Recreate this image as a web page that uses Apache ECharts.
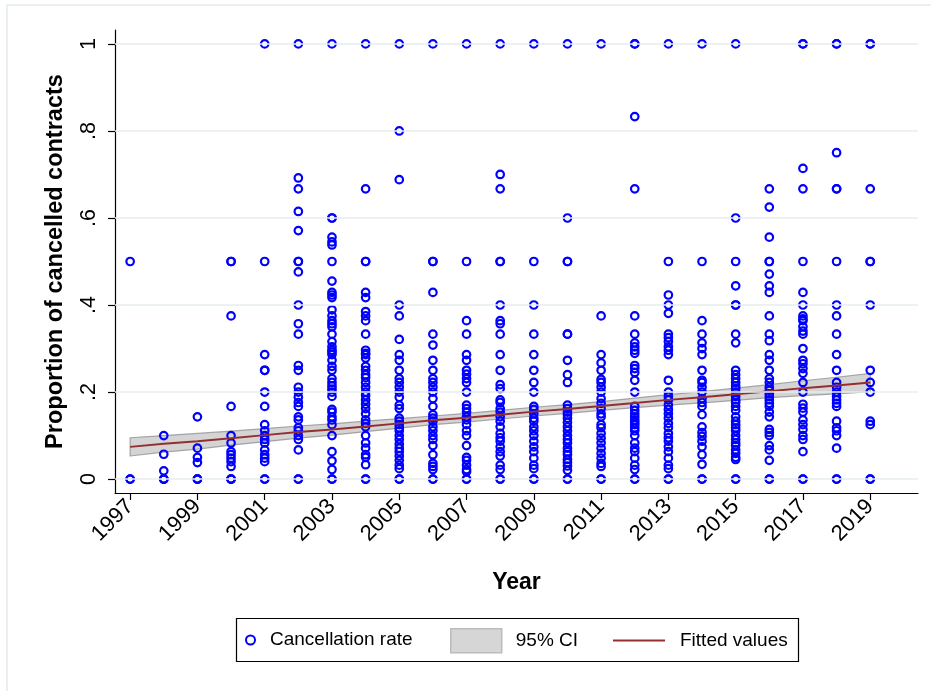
<!DOCTYPE html>
<html>
<head>
<meta charset="utf-8">
<title>Proportion of cancelled contracts by year</title>
<script src="https://cdn.jsdelivr.net/npm/echarts@6/dist/echarts.min.js"></script>
<style>
  html, body { margin: 0; padding: 0; background: #ffffff; }
  #chart { width: 931px; height: 691px; }
</style>
</head>
<body>
<div id="chart"></div>
<script>
// Cancellation rate per contract group, grouped by year
const rate1997 = [0, 0, 0.5];
const rate1998 = [0, 0, 0, 0.019, 0.057, 0.1];
const rate1999 = [0, 0, 0, 0.038, 0.05, 0.071, 0.143];
const rate2000 = [0, 0, 0, 0.029, 0.04, 0.048, 0.056, 0.063, 0.083, 0.1, 0.167, 0.375, 0.5, 0.5];
const rate2001 = [0, 0, 0.04, 0.048, 0.056, 0.067, 0.083, 0.091, 0.1, 0.111, 0.125, 0.167, 0.2, 0.25, 0.25, 0.286, 0.5, 1];
const rate2002 = [0, 0, 0.067, 0.091, 0.1, 0.111, 0.118, 0.136, 0.143, 0.167, 0.176, 0.188, 0.2, 0.211, 0.25, 0.261,
  0.333, 0.357, 0.4, 0.476, 0.5, 0.5, 0.571, 0.615, 0.667, 0.692, 1];
const rate2003 = [0, 0, 0.022, 0.042, 0.063, 0.1, 0.125, 0.136, 0.143, 0.154, 0.16, 0.19, 0.2, 0.207, 0.214, 0.222,
  0.231, 0.25, 0.259, 0.273, 0.286, 0.292, 0.296, 0.304, 0.316, 0.333, 0.35, 0.357, 0.364, 0.375, 0.389, 0.417,
  0.423, 0.429, 0.455, 0.5, 0.538, 0.545, 0.556, 0.6, 0.6, 1];
const rate2004 = [0, 0, 0.033, 0.05, 0.056, 0.071, 0.083, 0.1, 0.12, 0.128, 0.136, 0.15, 0.162, 0.172, 0.182, 0.192,
  0.2, 0.211, 0.222, 0.233, 0.24, 0.25, 0.259, 0.278, 0.286, 0.289, 0.296, 0.333, 0.364, 0.375, 0.385, 0.417,
  0.429, 0.5, 0.5, 0.667, 1];
const rate2005 = [0, 0, 0.024, 0.032, 0.043, 0.053, 0.063, 0.071, 0.08, 0.091, 0.1, 0.111, 0.118, 0.125, 0.133, 0.14,
  0.162, 0.17, 0.188, 0.2, 0.211, 0.222, 0.231, 0.25, 0.273, 0.286, 0.321, 0.375, 0.4, 0.688, 0.8, 1];
const rate2006 = [0, 0, 0.022, 0.029, 0.036, 0.056, 0.077, 0.091, 0.1, 0.111, 0.12, 0.133, 0.14, 0.148, 0.167, 0.185,
  0.2, 0.211, 0.222, 0.231, 0.25, 0.273, 0.308, 0.333, 0.429, 0.5, 0.5, 1];
const rate2007 = [0, 0, 0.017, 0.022, 0.032, 0.043, 0.05, 0.077, 0.1, 0.111, 0.125, 0.136, 0.143, 0.154, 0.162, 0.17,
  0.2, 0.222, 0.231, 0.241, 0.25, 0.273, 0.286, 0.333, 0.364, 0.5, 1];
const rate2008 = [0, 0, 0.022, 0.032, 0.053, 0.063, 0.074, 0.087, 0.095, 0.105, 0.12, 0.133, 0.143, 0.154, 0.162,
  0.176, 0.182, 0.208, 0.217, 0.25, 0.286, 0.333, 0.357, 0.364, 0.4, 0.5, 0.5, 0.667, 0.7, 1];
const rate2009 = [0, 0, 0.024, 0.032, 0.048, 0.063, 0.074, 0.087, 0.1, 0.111, 0.12, 0.133, 0.14, 0.15, 0.16, 0.167,
  0.2, 0.222, 0.25, 0.286, 0.333, 0.4, 0.5, 1];
const rate2010 = [0, 0, 0.02, 0.03, 0.038, 0.045, 0.056, 0.063, 0.071, 0.083, 0.091, 0.1, 0.111, 0.12, 0.13, 0.14,
  0.148, 0.154, 0.162, 0.17, 0.222, 0.24, 0.273, 0.333, 0.333, 0.5, 0.5, 0.6, 1];
const rate2011 = [0, 0, 0.029, 0.036, 0.048, 0.059, 0.071, 0.083, 0.094, 0.105, 0.118, 0.125, 0.143, 0.15, 0.162,
  0.174, 0.185, 0.2, 0.211, 0.222, 0.229, 0.25, 0.267, 0.286, 0.375, 1];
const rate2012 = [0, 0, 0.022, 0.032, 0.048, 0.063, 0.071, 0.083, 0.1, 0.111, 0.118, 0.125, 0.13, 0.136, 0.143, 0.15,
  0.158, 0.167, 0.2, 0.227, 0.245, 0.254, 0.261, 0.289, 0.296, 0.304, 0.313, 0.333, 0.375, 0.667, 0.833, 1, 1];
const rate2013 = [0, 0, 0.024, 0.032, 0.048, 0.063, 0.074, 0.087, 0.095, 0.105, 0.118, 0.128, 0.14, 0.15, 0.16, 0.17,
  0.182, 0.19, 0.2, 0.227, 0.286, 0.296, 0.304, 0.316, 0.325, 0.333, 0.381, 0.4, 0.423, 0.5, 1];
const rate2014 = [0, 0, 0.034, 0.056, 0.074, 0.087, 0.098, 0.107, 0.12, 0.148, 0.167, 0.176, 0.185, 0.2, 0.211, 0.222,
  0.227, 0.25, 0.286, 0.3, 0.313, 0.333, 0.364, 0.5, 1];
const rate2015 = [0, 0, 0.045, 0.05, 0.059, 0.067, 0.077, 0.083, 0.091, 0.1, 0.111, 0.118, 0.125, 0.133, 0.143, 0.158,
  0.167, 0.176, 0.182, 0.19, 0.2, 0.208, 0.214, 0.222, 0.231, 0.24, 0.25, 0.313, 0.333, 0.4, 0.4, 0.444, 0.5, 0.6, 1];
const rate2016 = [0, 0, 0.043, 0.067, 0.077, 0.1, 0.107, 0.114, 0.143, 0.154, 0.167, 0.174, 0.182, 0.19, 0.196, 0.204,
  0.211, 0.222, 0.231, 0.25, 0.273, 0.286, 0.318, 0.333, 0.375, 0.429, 0.444, 0.471, 0.5, 0.5, 0.556, 0.625, 0.667];
const rate2017 = [0, 0, 0.063, 0.091, 0.1, 0.114, 0.125, 0.136, 0.154, 0.163, 0.172, 0.2, 0.222, 0.243, 0.254, 0.265,
  0.273, 0.3, 0.333, 0.34, 0.35, 0.364, 0.368, 0.375, 0.4, 0.429, 0.5, 0.667, 0.714, 1, 1];
const rate2018 = [0, 0, 0.071, 0.1, 0.111, 0.118, 0.133, 0.167, 0.174, 0.182, 0.19, 0.2, 0.211, 0.222, 0.25, 0.286,
  0.333, 0.375, 0.4, 0.5, 0.667, 0.667, 0.75, 1, 1];
const rate2019 = [0, 0, 0.125, 0.133, 0.2, 0.222, 0.25, 0.4, 0.5, 0.5, 0.667, 1, 1];

const years = [1997, 1998, 1999, 2000, 2001, 2002, 2003, 2004, 2005, 2006, 2007, 2008,
  2009, 2010, 2011, 2012, 2013, 2014, 2015, 2016, 2017, 2018, 2019];
const ratesByYear = [rate1997, rate1998, rate1999, rate2000, rate2001, rate2002, rate2003, rate2004,
  rate2005, rate2006, rate2007, rate2008, rate2009, rate2010, rate2011, rate2012, rate2013, rate2014,
  rate2015, rate2016, rate2017, rate2018, rate2019];

// Linear fit and its 95% confidence band, one value per year
const fitted  = [0.074, 0.081, 0.087, 0.094, 0.101, 0.108, 0.114, 0.121, 0.128, 0.135, 0.141, 0.148,
  0.155, 0.161, 0.168, 0.175, 0.182, 0.188, 0.195, 0.202, 0.209, 0.215, 0.222];
const ciLower = [0.053, 0.062, 0.069, 0.078, 0.086, 0.094, 0.101, 0.109, 0.117, 0.125, 0.131, 0.138,
  0.145, 0.151, 0.158, 0.164, 0.170, 0.175, 0.181, 0.187, 0.192, 0.196, 0.201];
const ciUpper = [0.095, 0.100, 0.105, 0.110, 0.116, 0.122, 0.127, 0.133, 0.139, 0.145, 0.151, 0.158,
  0.165, 0.171, 0.178, 0.186, 0.194, 0.201, 0.209, 0.217, 0.226, 0.234, 0.243];

// Axis ticks
const xTicks = [1997, 1999, 2001, 2003, 2005, 2007, 2009, 2011, 2013, 2015, 2017, 2019];
const yTicks = [0, 0.2, 0.4, 0.6, 0.8, 1];

const FONT = '"Liberation Sans", Arial, Helvetica, sans-serif';
const MARKER = '#0000ff';
const FIT = '#952f2f';
const BAND_FILL = 'rgba(160,160,160,0.45)';
const BAND_EDGE = 'rgba(140,140,140,0.75)';

const scatterData = [];
ratesByYear.forEach(function (list, i) {
  list.forEach(function (v) { scatterData.push([years[i], v]); });
});
const bandData = years.map(function (y, i) { return [y, ciLower[i], ciUpper[i]]; });
const fitData = years.map(function (y, i) { return [y, fitted[i]]; });

// The whole confidence band is drawn as one polygon, mapped through the axes
function renderBand(params, api) {
  if (params.dataIndex !== 0) return null;
  const pts = [];
  for (let i = 0; i < bandData.length; i++) pts.push(api.coord([bandData[i][0], bandData[i][1]]));
  for (let i = bandData.length - 1; i >= 0; i--) pts.push(api.coord([bandData[i][0], bandData[i][2]]));
  return {
    type: 'polygon',
    shape: { points: pts },
    style: { fill: BAND_FILL, stroke: BAND_EDGE, lineWidth: 1.2 }
  };
}

const chart = echarts.init(document.getElementById('chart'), null, { renderer: 'canvas' });

chart.setOption({
  animation: false,
  backgroundColor: '#ffffff',
  textStyle: { fontFamily: FONT },
  graphic: [{
    type: 'rect',
    silent: true,
    z: -10,
    shape: { x: 7, y: 5, width: 1000, height: 1000 },
    style: { fill: 'none', stroke: '#e3ebee', lineWidth: 1.5 }
  }, {
    type: 'rect',
    silent: true,
    shape: { x: 236.5, y: 618.5, width: 562, height: 43 },
    style: { fill: 'none', stroke: '#000000', lineWidth: 1.2 }
  }],
  grid: { left: 115, right: 13, top: 30, bottom: 198, containLabel: false },
  xAxis: {
    type: 'value',
    min: 1996.55,
    max: 2020.42,
    name: 'Year',
    nameLocation: 'middle',
    nameGap: 78,
    nameTextStyle: { fontFamily: FONT, fontWeight: 'bold', fontSize: 23, color: '#000' },
    axisLine: { show: true, onZero: false, lineStyle: { color: '#000', width: 1.2 } },
    axisTick: { show: true, length: 7, customValues: xTicks, lineStyle: { color: '#000', width: 1.2 } },
    axisLabel: {
      customValues: xTicks,
      rotate: 45,
      margin: 10,
      fontSize: 22,
      color: '#000',
      fontFamily: FONT,
      formatter: function (v) { return String(Math.round(v)); }
    },
    splitLine: { show: false }
  },
  yAxis: {
    type: 'value',
    min: -0.032,
    max: 1.032,
    name: 'Proportion of cancelled contracts',
    nameLocation: 'middle',
    nameGap: 47,
    nameTextStyle: { fontFamily: FONT, fontWeight: 'bold', fontSize: 23.5, color: '#000' },
    axisLine: { show: true, onZero: false, lineStyle: { color: '#000', width: 1.2 } },
    axisTick: { show: true, length: 7, customValues: yTicks, lineStyle: { color: '#000', width: 1.2 } },
    axisLabel: {
      customValues: yTicks,
      rotate: 90,
      margin: 15,
      fontSize: 21.5,
      color: '#000',
      fontFamily: FONT,
      formatter: function (v) {
        const r = Math.round(v * 10) / 10;
        if (r === 0) return '0';
        if (r === 1) return '1';
        return String(r).replace(/^0/, '');
      }
    },
    splitLine: { show: false }
  },
  legend: [{
    data: ['Cancellation rate'],
    left: 245, top: 630.5,
    padding: 0,
    itemWidth: 9, itemHeight: 9,
    textStyle: { fontSize: 19, color: '#000', fontFamily: FONT, padding: [0, 0, 0, 10] },
    selectedMode: false
  }, {
    data: [{ name: '95% CI', icon: 'rect', itemStyle: { color: '#d6d6d6', borderColor: '#bcbcbc', borderWidth: 1.5 } }],
    left: 450, top: 628,
    padding: 0,
    itemWidth: 51, itemHeight: 24,
    textStyle: { fontSize: 19, color: '#000', fontFamily: FONT, padding: [0, 0, 0, 9] },
    selectedMode: false
  }, {
    data: [{ name: 'Fitted values', icon: 'rect', itemStyle: { color: FIT, borderWidth: 0 } }],
    left: 613, top: 631,
    padding: 0,
    itemWidth: 52, itemHeight: 2.2,
    textStyle: { fontSize: 19, color: '#000', fontFamily: FONT, padding: [0, 0, 0, 10] },
    selectedMode: false
  }],
  series: [{
    // horizontal grid lines at the y ticks
    type: 'line',
    name: 'grid',
    data: [],
    silent: true,
    markLine: {
      silent: true,
      symbol: 'none',
      label: { show: false },
      lineStyle: { color: '#e6eef0', width: 1.5, type: 'solid' },
      data: yTicks.map(function (v) { return { yAxis: v }; })
    }
  }, {
    type: 'scatter',
    name: 'Cancellation rate',
    data: scatterData,
    symbol: 'circle',
    symbolSize: 7.5,
    itemStyle: { color: 'rgba(0,0,0,0)', borderColor: MARKER, borderWidth: 2.2, opacity: 1 },
    emphasis: { disabled: true }
  }, {
    type: 'custom',
    name: '95% CI',
    data: bandData,
    encode: { x: 0, y: [1, 2] },
    renderItem: renderBand,
    itemStyle: { color: '#d6d6d6' },
    silent: true
  }, {
    type: 'line',
    name: 'Fitted values',
    data: fitData,
    symbol: 'none',
    showSymbol: false,
    lineStyle: { color: FIT, width: 2 },
    itemStyle: { color: FIT },
    silent: true
  }]
});
</script>
</body>
</html>
